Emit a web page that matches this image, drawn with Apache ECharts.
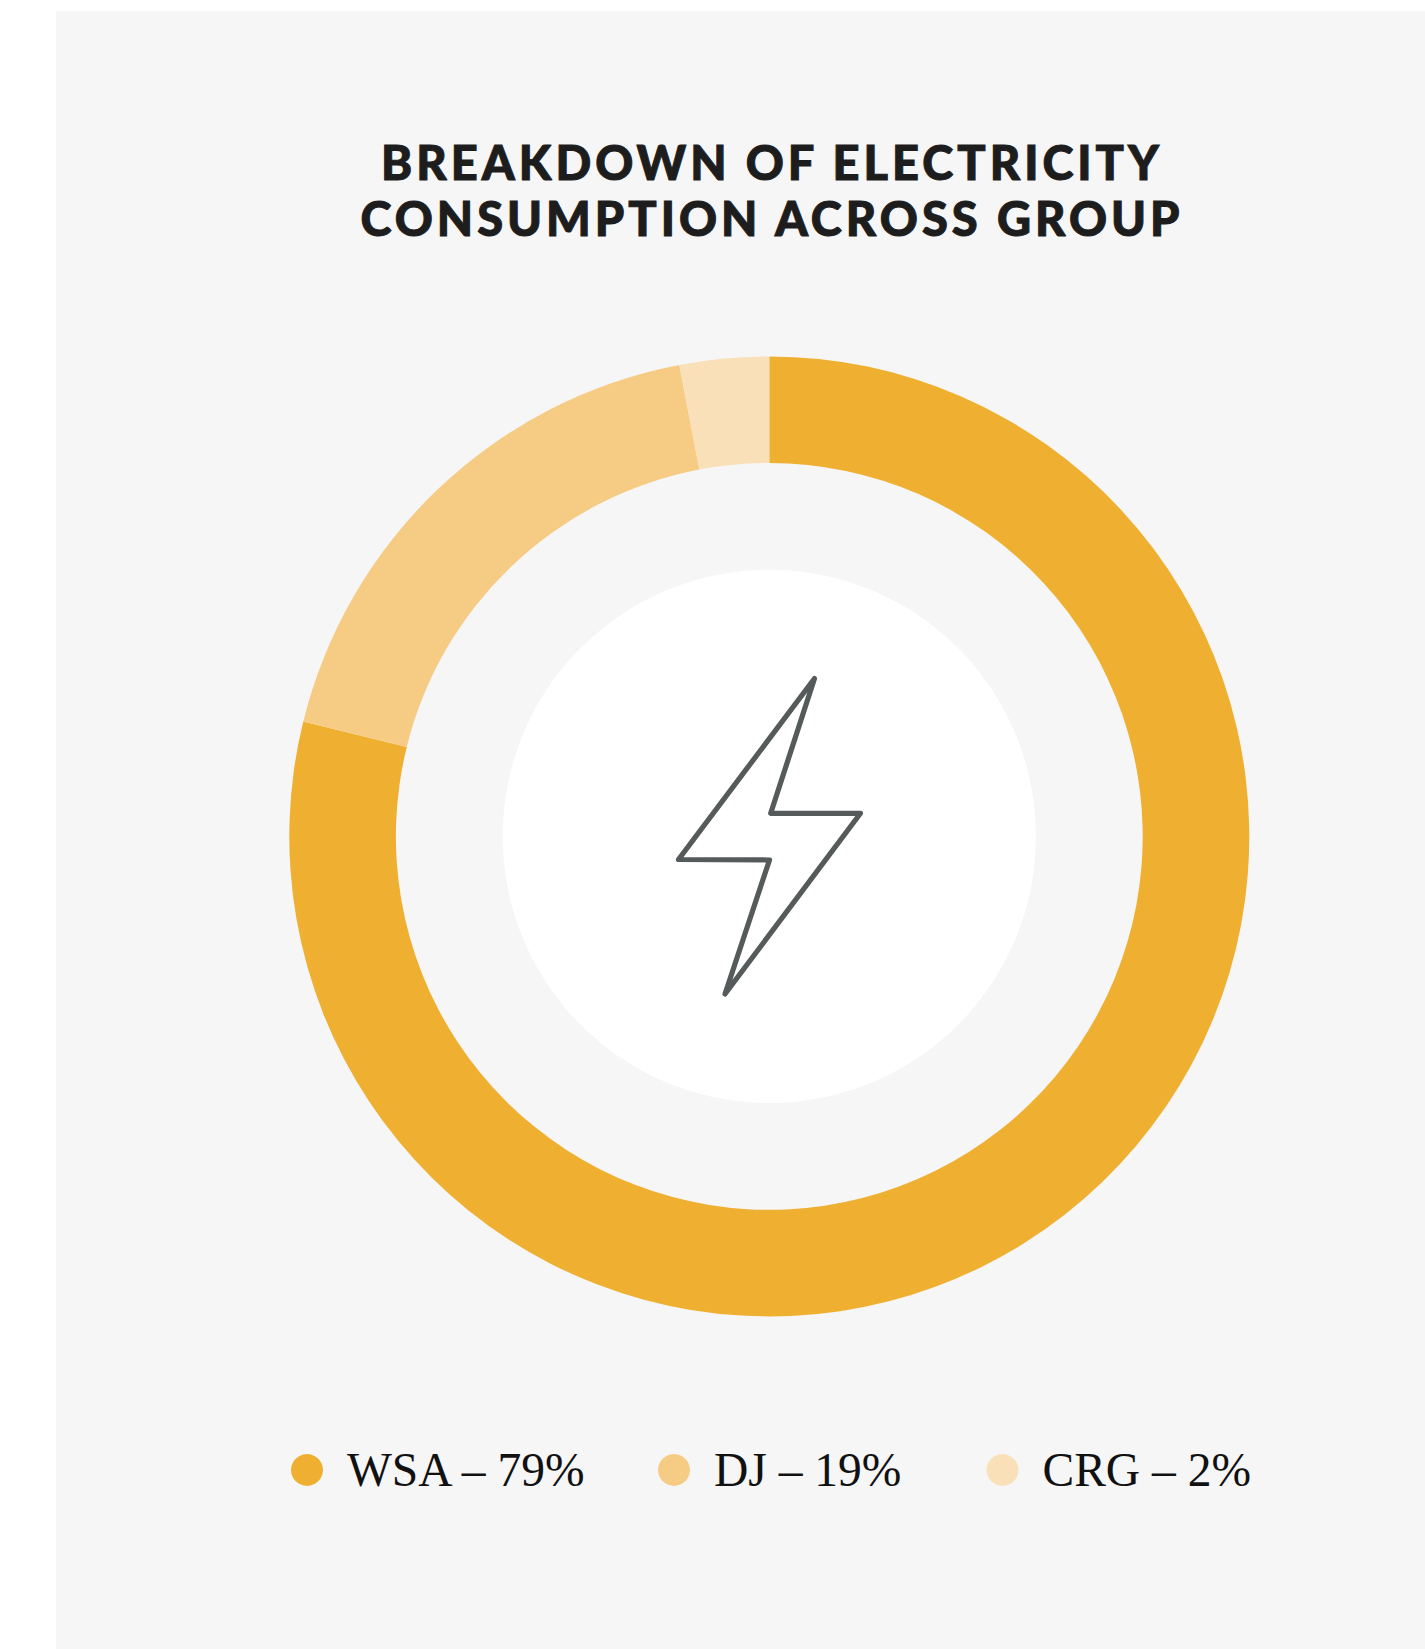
<!DOCTYPE html>
<html><head><meta charset="utf-8">
<style>
html,body{margin:0;padding:0;background:#fff}
#c{width:1425px;height:1649px}
svg text[style*="Lato"],svg text[font-family*="Lato"]{letter-spacing:4px}
</style>
<script src="https://cdn.jsdelivr.net/npm/echarts@6/dist/echarts.min.js"></script>
</head><body><div id="c"></div>
<script>
const categories = ['WSA', 'DJ', 'CRG'];
const drawnValues = [78.85, 18.15, 3.0];
const labelPercents = ['79%', '19%', '2%'];
const colors = ['#EFB032', '#F6CC84', '#FAE0B8'];
const titleLines = ['BREAKDOWN OF ELECTRICITY', 'CONSUMPTION ACROSS GROUP'];
const legendLefts = [286, 653, 981.5];

const names = categories.map((c, i) => c + ' – ' + labelPercents[i]);
const chart = echarts.init(document.getElementById('c'), null, {renderer: 'svg'});
const CX = 769.3, CY = 836.4;
chart.setOption({
  animation: false,
  backgroundColor: '#fff',
  title: {
    text: titleLines.join('\n'),
    left: 767, top: 129, textAlign: 'center',
    textStyle: {fontFamily: 'Lato', fontWeight: 900, fontSize: 47, lineHeight: 56, color: '#1d1d1d',
      textBorderColor: '#1d1d1d', textBorderWidth: 1}
  },
  legend: names.map((n, i) => ({
    left: legendLefts[i], top: 1441, orient: 'horizontal',
    icon: 'circle', itemWidth: 32, itemHeight: 32,
    selectedMode: false,
    textStyle: {fontFamily: 'Liberation Serif', fontSize: 47.5, color: '#111', padding: [0, 0, 0, 19]},
    data: [n]
  })),
  graphic: [
    {type: 'rect', z: -10, silent: true, shape: {x: 56, y: 11, width: 1369, height: 1638}, style: {fill: '#F6F6F6'}},
    {type: 'circle', z: 1, silent: true, shape: {cx: CX, cy: CY, r: 266.6}, style: {fill: '#FFFFFF'}},
    {type: 'polygon', z: 2, silent: true,
      shape: {points: [[814.5,678.5],[770.7,813.3],[860.5,813.3],[725,994],[769.5,860],[678.5,859.5]]},
      style: {fill: 'none', stroke: '#555A5A', lineWidth: 5.2, lineJoin: 'round'}}
  ],
  series: [{
    type: 'pie', center: [CX, CY], radius: [373.4, 480],
    startAngle: 90, clockwise: true, silent: true,
    label: {show: false}, labelLine: {show: false},
    emphasis: {disabled: true},
    data: names.map((n, i) => ({name: n, value: drawnValues[i], itemStyle: {color: colors[i]}}))
  }]
});
</script></body></html>
